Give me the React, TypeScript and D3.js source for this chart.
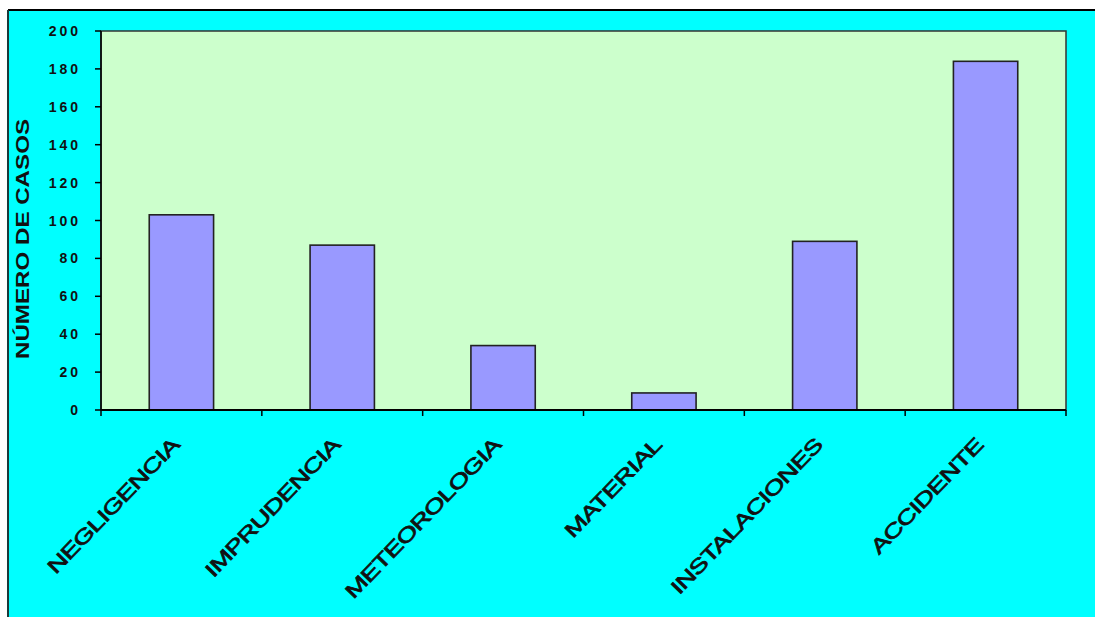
import React from "react";
import * as d3 from "d3";

const categories = ["NEGLIGENCIA", "IMPRUDENCIA", "METEOROLOGIA", "MATERIAL", "INSTALACIONES", "ACCIDENTE"];
const values = [103, 87, 34, 9, 89, 184];
const yTicks = [0, 20, 40, 60, 80, 100, 120, 140, 160, 180, 200];
const yTitle = "NÚMERO DE CASOS";

const W = 1095;
const H = 617;
const PL = 101, PR = 1066, PT = 31, PB = 410;

export default function App() {
  const x = d3.scaleBand<string>().domain(categories).range([PL, PR]).paddingInner(0.6).paddingOuter(0.3);
  const y = d3.scaleLinear().domain([0, 200]).range([PB, PT]);
  const step = x.step();
  const bw = x.bandwidth();
  const boundaries = categories.map((c) => (x(c) as number) + bw / 2 - step / 2).concat([PR]);
  const font = "'Liberation Sans', Arial, sans-serif";

  return (
    <div style={{ position: "fixed", left: 0, top: 0, width: W, height: H, background: "#fff" }}>
      <svg width={W} height={H} style={{ display: "block" }}>
        <rect x={0} y={0} width={W} height={H} fill="#ffffff" />
        <rect x={8} y={10} width={W - 8} height={H - 10} fill="#00FFFF" />
        <line x1={8} y1={10} x2={W} y2={10} stroke="#000" strokeWidth={2} />
        <line x1={8} y1={10} x2={8} y2={H} stroke="#1a3a3a" strokeWidth={2} />
        <rect x={PL} y={PT} width={PR - PL} height={PB - PT} fill="#CCFFCC" stroke="#333" strokeWidth={1.5} />
        {values.map((v, i) => (
          <rect
            key={categories[i]}
            x={x(categories[i]) as number}
            y={y(v)}
            width={bw}
            height={PB - y(v)}
            fill="#9999FF"
            stroke="#222"
            strokeWidth={1.6}
          />
        ))}
        <line x1={PL} y1={PB} x2={PR} y2={PB} stroke="#000" strokeWidth={2} />
        <line x1={PL} y1={PT} x2={PL} y2={PB} stroke="#000" strokeWidth={1.5} />
        {yTicks.map((t) => (
          <g key={t}>
            <line x1={PL - 6} y1={y(t)} x2={PL} y2={y(t)} stroke="#000" strokeWidth={1.5} />
            <text
              x={81}
              y={y(t)}
              dy="0.36em"
              textAnchor="end"
              fontFamily={font}
              fontWeight="bold"
              fontSize={14}
              letterSpacing={3}
              fill="#111"
            >
              {t}
            </text>
          </g>
        ))}
        {boundaries.map((b, i) => (
          <line key={i} x1={b} y1={PB} x2={b} y2={PB + 6} stroke="#000" strokeWidth={1.5} />
        ))}
        {categories.map((c) => {
          const cx = (x(c) as number) + bw / 2;
          return (
            <text
              key={c}
              transform={`translate(${cx - 1},${446}) rotate(-46) scale(1.38,1)`}
              textAnchor="end"
              fontFamily={font}
              fontSize={20}
              letterSpacing={-0.6}
              fill="#111"
              stroke="#111"
              strokeWidth={0.7}
            >
              {c}
            </text>
          );
        })}
        <text
          transform={`translate(${29},${239}) rotate(-90)`}
          textAnchor="middle"
          fontFamily={font}
          fontWeight="bold"
          fontSize={18}
          textLength={240}
          lengthAdjust="spacingAndGlyphs"
          fill="#111"
        >
          {yTitle}
        </text>
      </svg>
    </div>
  );
}
